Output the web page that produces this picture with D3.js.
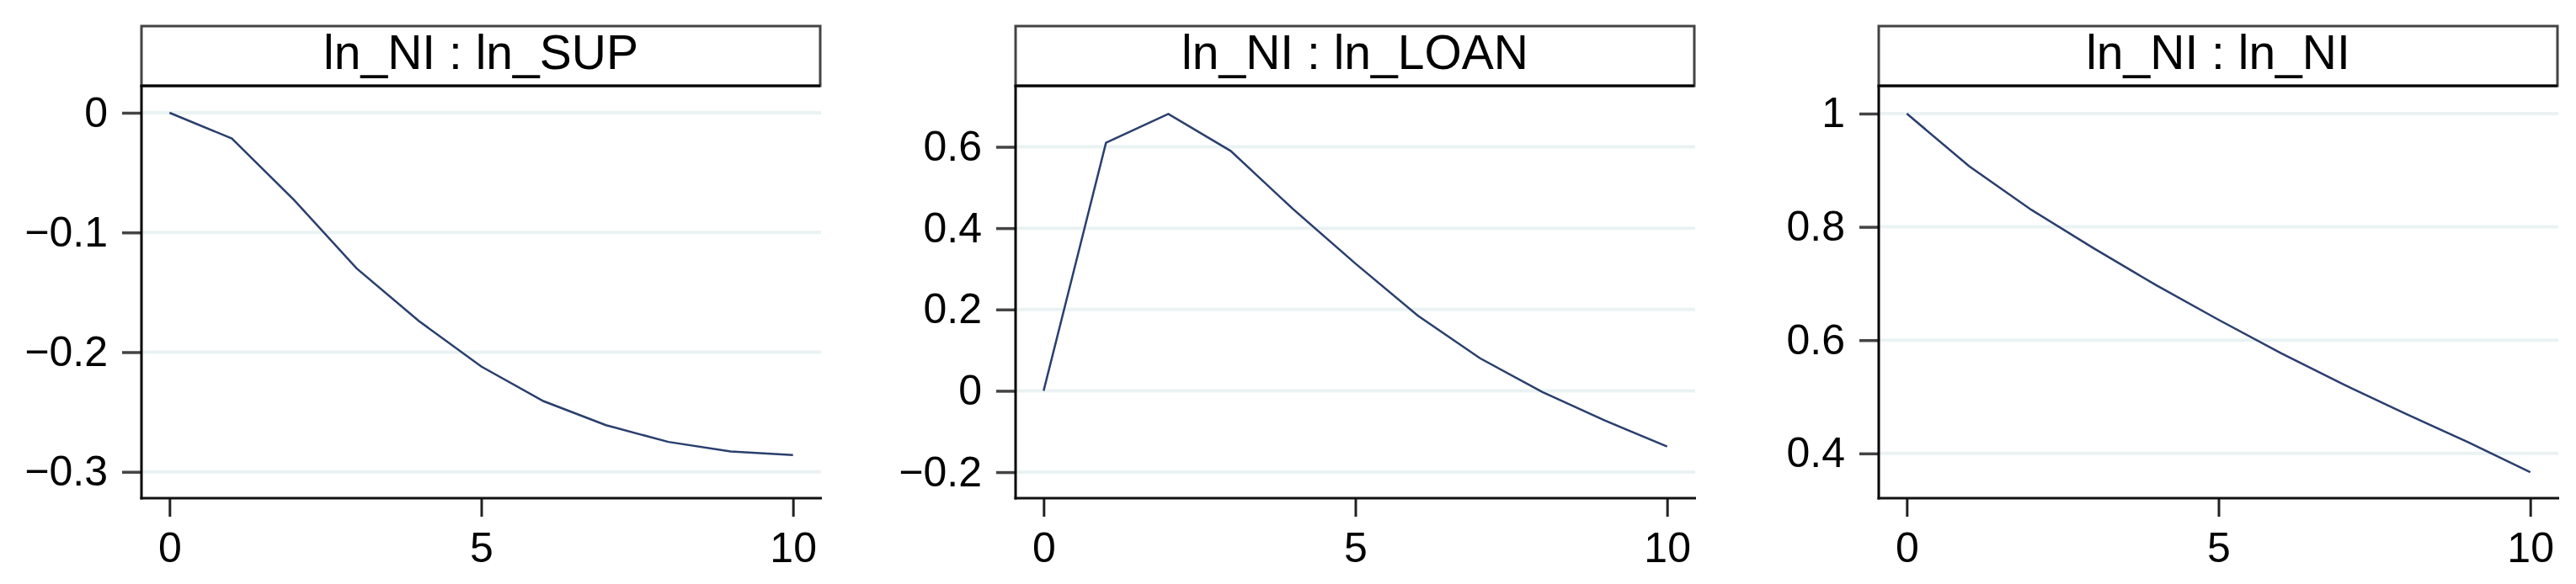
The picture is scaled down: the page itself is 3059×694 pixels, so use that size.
<!DOCTYPE html>
<html>
<head>
<meta charset="utf-8">
<script src="https://cdn.jsdelivr.net/npm/d3@7"></script>
<style>
  body { margin: 0; background: #fff; }
  svg text { font-family: "Liberation Sans", Arial, sans-serif; fill: #000; }
</style>
</head>
<body>
<div id="chart"></div>
<script>
// impulse response horizons and values
var steps = [0, 1, 2, 3, 4, 5, 6, 7, 8, 9, 10];
var titles = ["ln_NI : ln_SUP", "ln_NI : ln_LOAN", "ln_NI : ln_NI"];
var supValues  = [0, -0.0215, -0.073, -0.13, -0.174, -0.212, -0.241, -0.261, -0.275, -0.283, -0.286];
var loanValues = [0, 0.61, 0.681, 0.59, 0.447, 0.313, 0.185, 0.08, -0.003, -0.073, -0.137];
var niValues   = [1, 0.907, 0.83, 0.762, 0.697, 0.636, 0.577, 0.522, 0.47, 0.42, 0.367];
var xTicks = [0, 5, 10];
var supTicks  = [0, -0.1, -0.2, -0.3];
var loanTicks = [0.6, 0.4, 0.2, 0, -0.2];
var niTicks   = [1, 0.8, 0.6, 0.4];
var supRange  = [-0.322, 0.0225];
var loanRange = [-0.264, 0.75];
var niRange   = [0.321, 1.049];

var panels = [
  {title: titles[0], values: supValues,  ticks: supTicks,  range: supRange,  left: 168},
  {title: titles[1], values: loanValues, ticks: loanTicks, range: loanRange, left: 1206},
  {title: titles[2], values: niValues,   ticks: niTicks,   range: niRange,   left: 2231}
];

var width = 3059, height = 694;
var pw = 807, headTop = 31, plotTop = 102, plotBottom = 592;

var svg = d3.select("#chart")
    .append("svg")
    .attr("width", width)
    .attr("height", height);

var fmt = function(d) { return d3.format("~g")(d); };

panels.forEach(function(p) {
    var g = svg.append("g").attr("transform", "translate(" + p.left + ",0)");

    var x = d3.scaleLinear().domain([-0.45, 10.45]).range([0, pw]);
    var y = d3.scaleLinear().domain(p.range).range([plotBottom, plotTop]);

    // grid lines
    g.selectAll(".grid")
        .data(p.ticks)
        .enter()
        .append("line")
        .attr("x1", 0)
        .attr("x2", pw)
        .attr("y1", function(d) { return y(d); })
        .attr("y2", function(d) { return y(d); })
        .style("stroke", "#eaf2f3")
        .style("stroke-width", 4);

    // y axis
    var ya = g.append("g")
        .call(d3.axisLeft(y).tickValues(p.ticks).tickFormat(fmt).tickSize(23).tickPadding(17));
    ya.select(".domain").remove();
    ya.selectAll(".tick line").style("stroke", "#444").style("stroke-width", 3.5);
    ya.selectAll(".tick text").attr("font-size", "50px").attr("fill", "#000");

    // x axis
    var xa = g.append("g")
        .attr("transform", "translate(0," + plotBottom + ")")
        .call(d3.axisBottom(x).tickValues(xTicks).tickFormat(fmt).tickSize(22).tickPadding(18));
    xa.select(".domain").remove();
    xa.selectAll(".tick line").style("stroke", "#222").style("stroke-width", 3);
    xa.selectAll(".tick text").attr("font-size", "50px").attr("fill", "#000");

    // axis lines
    g.append("line")
        .attr("x1", 0).attr("x2", 0)
        .attr("y1", plotTop).attr("y2", plotBottom + 1.5)
        .style("stroke", "#000").style("stroke-width", 3);
    g.append("line")
        .attr("x1", -1.5).attr("x2", pw + 1)
        .attr("y1", plotBottom).attr("y2", plotBottom)
        .style("stroke", "#111").style("stroke-width", 3);

    // header strip
    g.append("rect")
        .attr("x", 0).attr("y", headTop)
        .attr("width", pw - 1).attr("height", plotTop - headTop)
        .style("fill", "#fff")
        .style("stroke", "#444")
        .style("stroke-width", 3);
    g.append("line")
        .attr("x1", -1.5).attr("x2", pw - 1)
        .attr("y1", plotTop).attr("y2", plotTop)
        .style("stroke", "#000").style("stroke-width", 3);
    g.append("text")
        .attr("x", (pw - 1) / 2)
        .attr("y", 82)
        .attr("text-anchor", "middle")
        .attr("font-size", "57px")
        .text(p.title);

    // response line
    var line = d3.line()
        .x(function(d, i) { return x(steps[i]); })
        .y(function(d) { return y(d); });
    g.append("path")
        .datum(p.values)
        .attr("d", line)
        .style("fill", "none")
        .style("stroke", "#2a3f6e")
        .style("stroke-width", 2.5);
});
</script>
</body>
</html>
